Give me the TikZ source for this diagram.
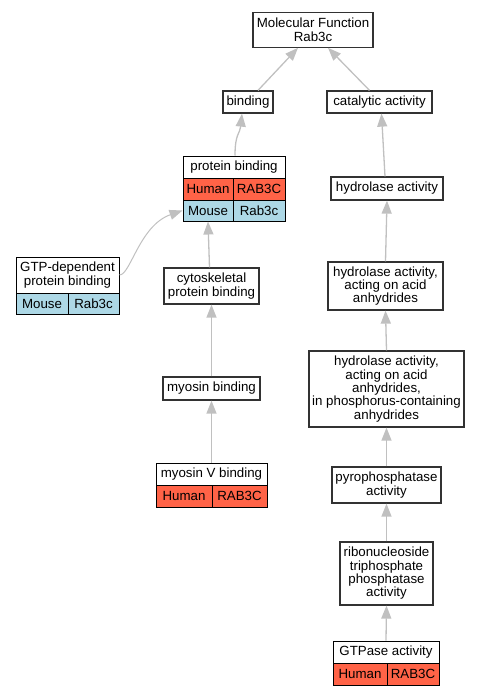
\documentclass[tikz,border=0pt]{standalone}
\usepackage{fontspec}
\setmainfont{Liberation Sans}
\usetikzlibrary{arrows.meta,calc}
\definecolor{humanc}{HTML}{FF6347}
\definecolor{mousec}{HTML}{ADD8E6}
\definecolor{edgec}{RGB}{192,192,192}
\definecolor{boxc}{RGB}{50,50,50}
\tikzset{
  box/.style={draw=boxc,line width=1.25pt,fill=white,inner sep=0pt,align=center,rectangle},
  hbox/.style={draw=black,line width=1pt,fill=white,inner sep=0pt,align=center,rectangle},
  hcell/.style={draw=black,line width=1pt,fill=humanc,inner sep=0pt,rectangle},
  mcell/.style={draw=black,line width=1pt,fill=mousec,inner sep=0pt,rectangle},
  arr/.style={draw=edgec,line width=1.3pt,-{Triangle[length=13pt,width=10pt,fill=edgec]}},
  thinarr/.style={arr,line width=1pt}
}
\begin{document}
\begin{tikzpicture}[x=1pt,y=-1pt,font=\fontsize{13.3}{13.3}\selectfont]
\useasboundingbox (0,0) rectangle (480,696);
% right/top nodes
\node[box,minimum width=120,minimum height=35] (mf) at (313,29.7) {Molecular Function\\Rab3c};
\node[box,minimum width=50,minimum height=22] (bind) at (248,102) {binding};
\node[box,minimum width=105,minimum height=22] (cat) at (379.5,102) {catalytic activity};
% protein binding table
\node[hbox,minimum width=102,minimum height=22] (pb) at (234,167) {protein binding};
\node[hcell,minimum width=50,minimum height=22] (pbh1) at (208,189) {Human};
\node[hcell,minimum width=52,minimum height=22] (pbh2) at (259,189) {RAB3C};
\node[mcell,minimum width=50,minimum height=21] (pbm1) at (208,210.5) {Mouse};
\node[mcell,minimum width=52,minimum height=21] (pbm2) at (259,210.5) {Rab3c};
\node[box,minimum width=112,minimum height=23] (hyd) at (387,188.5) {hydrolase activity};
% GTP-dependent table
\node[hbox,minimum width=103,minimum height=36] (gtp) at (67.5,275) {GTP-dependent\\protein binding};
\node[mcell,minimum width=52,minimum height=21] (gtpm1) at (42,303.5) {Mouse};
\node[mcell,minimum width=51,minimum height=21] (gtpm2) at (93.5,303.5) {Rab3c};
\node[box,minimum width=95,minimum height=36] (cyto) at (211.5,286) {cytoskeletal\\protein binding};
\node[box,minimum width=115,minimum height=48] (hydacid) at (385.5,286) {hydrolase activity,\\acting on acid\\anhydrides};
\node[box,minimum width=97,minimum height=23] (myo) at (211.5,388.5) {myosin binding};
\node[box,minimum width=155,minimum height=76] (hydphos) at (386.5,389) {hydrolase activity,\\acting on acid\\anhydrides,\\in phosphorus-containing\\anhydrides};
% myosin V table
\node[hbox,minimum width=111,minimum height=22] (myov) at (211.5,474) {myosin V binding};
\node[hcell,minimum width=56,minimum height=22] (myovh1) at (184,496) {Human};
\node[hcell,minimum width=55,minimum height=22] (myovh2) at (239.5,496) {RAB3C};
\node[box,minimum width=109,minimum height=36] (pyro) at (386.5,485) {pyrophosphatase\\activity};
\node[box,minimum width=93,minimum height=63] (ribo) at (386.5,573.5) {ribonucleoside\\triphosphate\\phosphatase\\activity};
% GTPase table
\node[hbox,minimum width=106,minimum height=22] (gtpase) at (386,652) {GTPase activity};
\node[hcell,minimum width=54,minimum height=22] (gtpaseh1) at (360,674) {Human};
\node[hcell,minimum width=52,minimum height=22] (gtpaseh2) at (413,674) {RAB3C};
% edges
\draw[arr] ([xshift=10pt]bind.north) -- ([xshift=-15pt]mf.south);
\draw[arr] ([xshift=-10pt]cat.north) -- ([xshift=15pt]mf.south);
\draw[arr] ([xshift=1pt]pb.north) .. controls ($(pb.north)+(1,-22)$) and ($(bind.south)+(-8,20)$) .. ([xshift=-6pt]bind.south);
\draw[arr] ([xshift=-2pt]hyd.north) -- ([xshift=2pt]cat.south);
\draw[thinarr] (gtp.east) .. controls ($(gtp.east)+(11,0)$) and ($(pbm1.west)+(-43,15)$) .. (pbm1.west);
\draw[arr] ([xshift=-2pt]cyto.north) -- (pbm1.south);
\draw[arr] (myo.north) -- (cyto.south);
\draw[arr] (myov.north) -- (myo.south);
\draw[arr] (hydacid.north) -- (hyd.south);
\draw[arr] (hydphos.north) -- (hydacid.south);
\draw[arr] (pyro.north) -- (hydphos.south);
\draw[arr] (ribo.north) -- (pyro.south);
\draw[arr] (gtpase.north) -- (ribo.south);
\end{tikzpicture}
\end{document}
